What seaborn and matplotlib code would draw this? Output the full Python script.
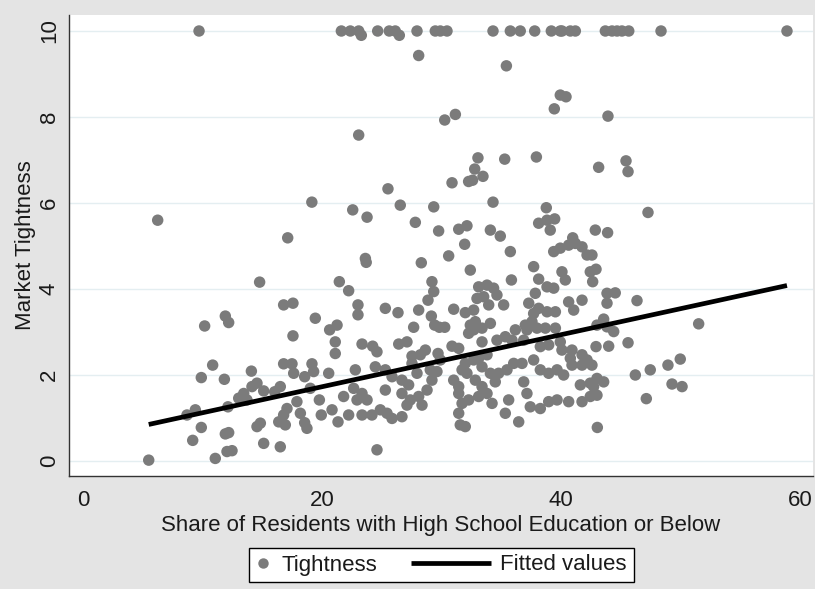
import numpy as np
import pandas as pd
import matplotlib
matplotlib.use("Agg")
import matplotlib.pyplot as plt
import seaborn as sns
from matplotlib.lines import Line2D
from matplotlib.legend_handler import HandlerBase

# Share of residents with high school education or below (%), by market
share_top = [9.71, 21.62, 22.37, 23.07, 23.29, 24.66, 25.63, 26.13, 26.47, 27.95,
             29.48, 29.90, 30.46, 34.31, 35.76, 36.59, 37.80, 39.19, 39.94, 40.08,
             40.78, 41.20, 43.71, 44.27, 44.69, 45.10, 45.67, 48.37, 58.91]
tight_top = [10, 10, 10, 10, 9.9, 10, 10, 10, 9.9, 10,
             10, 10, 10, 10, 10, 10, 10, 10, 10, 10,
             10, 10, 10, 10, 10, 10, 10, 10, 10]

share_high = [28.09, 35.43, 39.94, 40.42, 39.44, 43.93, 23.07, 30.27, 31.16, 33.05,
              35.29, 37.94, 43.15, 45.44, 45.61, 32.78, 33.47, 32.27, 32.60, 30.88,
              25.52, 19.15, 6.25, 17.13, 22.57, 23.77, 26.55, 27.81, 29.35, 29.76,
              31.44, 32.13, 34.31, 34.09, 34.92, 38.77, 38.13, 38.83, 39.47, 39.10,
              31.94, 47.28, 42.87, 43.90, 40.98]
tight_high = [9.43, 9.19, 8.51, 8.47, 8.19, 8.02, 7.58, 7.93, 8.06, 7.05,
              7.02, 7.07, 6.83, 6.98, 6.73, 6.79, 6.62, 6.50, 6.53, 6.47,
              6.33, 6.02, 5.60, 5.19, 5.84, 5.67, 5.95, 5.55, 5.91, 5.35,
              5.39, 5.47, 6.02, 5.37, 5.23, 5.89, 5.53, 5.60, 5.63, 5.37,
              5.04, 5.78, 5.37, 5.31, 5.19]

share_low = [10.18, 11.91, 12.19, 10.85, 9.90, 11.83, 8.70, 9.40, 9.90, 9.18,
             5.50, 11.07, 12.05, 12.13, 11.91, 12.19,
             14.78, 21.45, 22.23, 16.79, 17.57, 19.44, 21.26, 20.64, 21.11, 21.11,
             17.57, 14.09, 16.79, 17.49, 17.63, 18.55, 19.16, 19.30, 20.56, 13.45,
             14.14, 14.56, 15.12, 16.04, 16.51, 17.90, 17.07, 16.79, 16.38, 16.93,
             18.19, 18.55, 18.74, 19.02, 19.78, 19.94, 20.84, 21.34, 21.81, 22.23,
             14.56, 14.84, 15.12, 16.51, 12.47, 13.03, 13.72,
             23.63, 23.70, 28.31, 30.60, 32.41, 29.20, 29.35, 28.87, 23.01, 23.01,
             25.30, 26.36, 28.09, 29.15, 29.43, 29.82, 30.27, 27.67, 31.02, 31.99,
             32.41, 32.27, 23.35, 24.24, 24.60, 26.42, 27.11, 28.65, 28.23, 27.53,
             29.71, 30.88, 31.44,
             22.79, 22.65, 23.35, 22.93, 23.77, 23.35, 24.18, 24.88, 25.30, 25.86,
             26.69, 27.25, 26.69, 27.39, 28.09, 28.37, 28.79, 29.20, 29.06, 29.62,
             27.95, 27.53, 25.30, 24.46, 25.86, 26.69, 25.44, 27.11, 31.02, 31.44,
             31.72, 31.44, 31.57, 32.13, 32.27, 31.99, 24.60, 31.72, 31.44, 29.90,
             31.99,
             35.76, 37.71, 35.85, 38.13, 39.39, 39.94, 40.64, 41.20, 41.76, 42.18,
             40.08, 40.36, 38.83, 39.39, 42.45, 33.11, 33.81, 34.36, 34.64, 33.53,
             32.97, 33.95, 35.20, 37.85, 37.30, 38.13, 37.71, 38.83, 39.53, 40.64,
             41.76, 41.06, 32.69, 32.83, 34.09, 33.39, 32.69, 36.18, 37.01, 37.57,
             37.99, 37.15, 38.69, 39.53, 33.39, 34.64, 35.34, 35.90, 36.88, 38.27,
             38.97, 39.94, 40.08, 40.92, 40.78, 41.76, 33.11, 33.81,
             32.69, 33.39, 34.09, 34.78, 35.48, 36.04, 36.74, 37.71, 38.27, 38.97,
             39.67, 40.22, 40.92, 41.76, 42.18, 32.83, 33.39, 33.81, 34.50, 33.11,
             34.23, 35.62, 35.34, 36.46, 36.88, 37.15, 37.43, 38.27, 38.97, 39.67,
             40.64, 41.76, 41.62, 42.45, 42.45,
             42.59, 42.93, 42.65, 43.85, 44.54, 43.85, 46.36, 43.57, 43.01, 44.41,
             43.85, 51.52, 42.93, 43.99, 45.61, 42.59, 46.22, 47.47, 48.95, 49.98,
             43.01, 43.57, 42.73, 43.01, 49.29, 50.13, 47.14, 43.04]
tight_low = [3.14, 3.37, 3.22, 2.23, 1.94, 1.90, 1.07, 1.19, 0.78, 0.48,
             0.02, 0.06, 0.22, 1.26, 0.63, 0.66,
             4.16, 4.17, 3.96, 3.63, 3.67, 3.32, 3.16, 3.05, 2.77, 2.50,
             2.91, 2.09, 2.26, 2.26, 2.04, 1.96, 2.26, 2.08, 2.04, 1.57,
             1.73, 1.81, 1.63, 1.61, 1.73, 1.38, 1.22, 1.07, 0.91, 0.84,
             1.11, 0.89, 0.76, 1.69, 1.42, 1.07, 1.19, 0.91, 1.50, 1.07,
             0.80, 0.88, 0.41, 0.33, 0.24, 1.46, 1.42,
             4.71, 4.62, 4.61, 4.77, 4.44, 4.17, 3.94, 3.74, 3.63, 3.40,
             3.55, 3.45, 3.51, 3.37, 3.16, 3.11, 3.11, 3.11, 3.53, 3.45,
             3.16, 2.97, 2.72, 2.67, 2.54, 2.72, 2.77, 2.58, 2.47, 2.44,
             2.50, 2.67, 2.62,
             2.12, 1.69, 1.57, 1.42, 1.42, 1.07, 1.07, 1.19, 1.65, 1.96,
             1.88, 1.77, 1.57, 1.42, 1.50, 1.30, 1.65, 1.88, 2.12, 2.08,
             2.04, 2.27, 2.12, 2.19, 0.99, 1.03, 1.11, 1.30, 1.88, 1.57,
             1.34, 1.11, 0.84, 2.04, 1.42, 2.27, 0.26, 2.12, 1.73, 2.35,
             0.80,
             4.87, 4.52, 4.21, 4.23, 4.87, 4.95, 5.02, 5.06, 4.98, 4.79,
             4.40, 4.21, 4.05, 4.02, 4.40, 4.05, 4.09, 4.02, 3.86, 3.82,
             3.78, 3.63, 3.63, 3.90, 3.67, 3.55, 3.43, 3.47, 3.47, 3.70,
             3.74, 3.51, 3.51, 3.24, 3.20, 3.09, 3.05, 3.05, 3.16, 3.24,
             3.09, 3.05, 3.09, 3.09, 2.77, 2.81, 2.89, 2.81, 2.81, 2.66,
             2.70, 2.77, 2.58, 2.58, 2.39, 2.47, 2.39, 2.47,
             2.35, 2.19, 2.04, 2.04, 2.12, 2.27, 2.27, 2.35, 2.12, 2.04,
             2.12, 2.00, 2.23, 2.23, 2.35, 1.88, 1.73, 1.57, 1.84, 1.50,
             1.34, 1.42, 1.11, 0.91, 1.84, 1.57, 1.26, 1.22, 1.38, 1.42,
             1.38, 1.38, 1.77, 1.81, 1.50,
             4.79, 4.46, 4.17, 3.90, 3.91, 3.67, 3.73, 3.30, 3.16, 3.01,
             3.12, 3.19, 2.66, 2.67, 2.75, 2.23, 2.00, 2.12, 2.23, 2.37,
             1.92, 1.84, 1.73, 1.53, 1.79, 1.73, 1.45, 0.78]

# Linear fit of tightness on share (intercept, slope)
fit_intercept = 0.517
fit_slope = 0.0605

x_ticks = [0, 20, 40, 60]
y_ticks = [0, 2, 4, 6, 8, 10]

df = pd.DataFrame({
    "share": share_top + share_high + share_low,
    "tightness": tight_top + tight_high + tight_low,
})
fit_x = np.array([df["share"].min(), df["share"].max()])
fit_df = pd.DataFrame({"share": fit_x, "fitted": fit_intercept + fit_slope * fit_x})

sns.set_theme(style="white")
plt.rcParams["font.family"] = ["Liberation Sans", "DejaVu Sans"]

W, H = 815, 589
FS = 16
fig = plt.figure(figsize=(W / 100, H / 100), dpi=100, facecolor="#e4e4e4")
left, right, top, bottom = 69, 813, 15, 476
ax = fig.add_axes([left / W, 1 - bottom / H, (right - left) / W, (bottom - top) / H])
ax.set_facecolor("white")

for yv in y_ticks:
    ax.axhline(yv, color="#e4eef1", lw=1.0, zorder=0)

dot_color = "#7b7b7b"
line_w = 3.4
sns.scatterplot(data=df, x="share", y="tightness", ax=ax, s=68, color=dot_color,
                edgecolor="none", linewidth=0, zorder=3, legend=False)
sns.lineplot(data=fit_df, x="share", y="fitted", ax=ax, color="black", lw=line_w,
             zorder=4, legend=False)
ax.lines[-1].set_solid_capstyle("butt")

ax.set_xlim((left - 83) / 11.95, (right - 83) / 11.95)
ax.set_ylim((461 - bottom) / 43, (461 - top) / 43)
ax.set_xticks(x_ticks)
ax.set_yticks(y_ticks)
ax.set_yticklabels([str(v) for v in y_ticks], rotation=90, va="center")

for side in ("top", "right"):
    ax.spines[side].set_visible(False)
for side in ("left", "bottom"):
    ax.spines[side].set_color("#333333")
    ax.spines[side].set_linewidth(1.0)

ax.tick_params(axis="both", direction="out", length=6, width=1, color="#333333",
               labelsize=FS, labelcolor="#1a1a1a")
ax.tick_params(axis="x", pad=4)
ax.tick_params(axis="y", pad=0.5)

ax.set_xlabel("Share of Residents with High School Education or Below",
              fontsize=FS, color="#1a1a1a", labelpad=3)
ax.set_ylabel("Market Tightness", fontsize=FS, color="#1a1a1a", labelpad=2.5)


class DotHandler(HandlerBase):
    """Single marker placed near the left end of the handle box."""

    def create_artists(self, legend, orig_handle, xdescent, ydescent,
                       width, height, fontsize, trans):
        y = (height - ydescent) / 2
        dot = Line2D([-xdescent + 4.6], [y], linestyle="none", marker="o",
                     markersize=7.5, markerfacecolor=dot_color,
                     markeredgecolor="none", transform=trans)
        return [dot]


class LongLineHandler(HandlerBase):
    """Line key that ends at the handle box and extends leftwards."""

    def create_artists(self, legend, orig_handle, xdescent, ydescent,
                       width, height, fontsize, trans):
        y = (height - ydescent) / 2
        x1 = -xdescent + width
        seg = Line2D([x1 - 57.6, x1], [y, y], color="black", lw=line_w,
                     solid_capstyle="butt", transform=trans)
        return [seg]


marker_handle = Line2D([], [], linestyle="none", marker="o", color=dot_color)
line_handle = Line2D([], [], color="black", lw=line_w)

leg = fig.legend([marker_handle, line_handle], ["Tightness", "Fitted values"],
                 loc="center", bbox_to_anchor=(441.5 / W, 1 - 565 / H), ncol=2,
                 fontsize=FS, frameon=True, fancybox=False, framealpha=1,
                 facecolor="white", edgecolor="black", handlelength=0.74,
                 handletextpad=0.4, columnspacing=4.4, borderpad=0.3,
                 handler_map={marker_handle: DotHandler(),
                              line_handle: LongLineHandler()})
leg.get_frame().set_linewidth(1.0)
for t in leg.get_texts():
    t.set_color("#1a1a1a")

fig.savefig("out.png", dpi=100, facecolor=fig.get_facecolor())
